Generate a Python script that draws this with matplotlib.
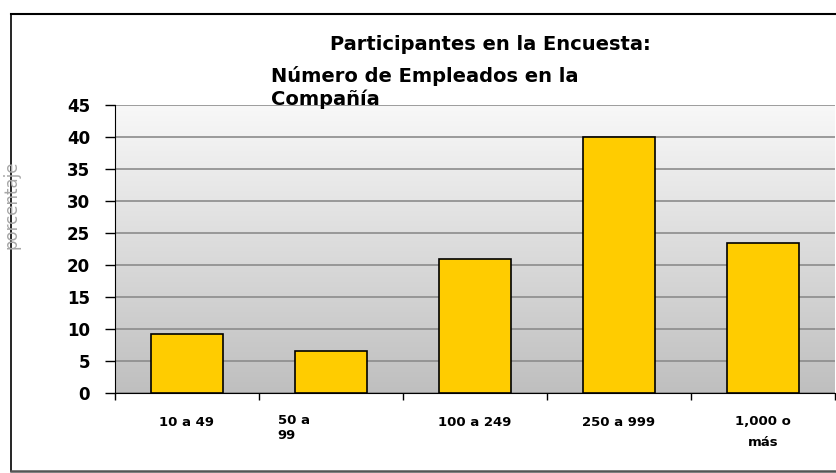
import matplotlib
matplotlib.use("Agg")
import matplotlib.pyplot as plt
import numpy as np
from matplotlib.lines import Line2D
from matplotlib.transforms import blended_transform_factory

categories = ["10 a 49", "50 a\n99", "100 a 249", "250 a 999", "1,000 o\nmás"]
values = [9.2, 6.5, 20.9, 40.0, 23.5]
yticks = [0, 5, 10, 15, 20, 25, 30, 35, 40, 45]

plt.rcParams["font.family"] = ["DejaVu Sans"]

W, H = 837, 473
fig = plt.figure(figsize=(W / 100, H / 100), dpi=100)
ax = fig.add_axes([115 / W, 1 - 393 / H, 720 / W, 288 / H])

# grey vertical gradient behind the bars
grad = np.linspace(0, 1, 256).reshape(-1, 1)
cmap = matplotlib.colors.LinearSegmentedColormap.from_list("bg", ["#bfbfbf", "#f8f8f8"])
ax.imshow(grad, extent=(0, 1, 0, 1), transform=ax.transAxes, aspect="auto",
          cmap=cmap, origin="lower", zorder=0)

x = np.arange(len(categories))
ax.bar(x, values, width=0.5, color="#ffcc00", edgecolor="black", lw=1.2, zorder=3)

ax.set_xlim(-0.5, len(categories) - 0.5)
ax.set_ylim(0, 45)
ax.set_yticks(yticks)
ax.set_yticklabels([str(t) for t in yticks], fontsize=12, fontweight="bold")
ax.yaxis.grid(True, color="#8c8c8c", lw=1.2, zorder=1)
ax.set_axisbelow(True)
ax.tick_params(axis="y", direction="out", length=7, width=1, pad=11)

ax.set_xticks(x)
ax.set_xticklabels([])
ax.tick_params(axis="x", which="major", length=0)
ax.set_xticks(np.arange(-0.5, len(categories)), minor=True)
ax.tick_params(axis="x", which="minor", direction="out", length=5, width=1)

for side in ["top", "right"]:
    ax.spines[side].set_visible(False)

# category labels, placed the way the original wraps them
tr = blended_transform_factory(ax.transData, ax.transAxes)
label_pos = {
    0: (0, (393 - 423) / 288, "center", 1.25),
    1: (0.63, (393 - 428) / 288, "left", 1.25),
    2: (2, (393 - 423) / 288, "center", 1.25),
    3: (3, (393 - 423) / 288, "center", 1.25),
    4: (4, (393 - 432) / 288, "center", 1.75),
}
for i, lab in enumerate(categories):
    xx, yy, ha, ls = label_pos[i]
    ax.text(xx, yy, lab, transform=tr, ha=ha, va="center", fontsize=9.5,
            fontweight="bold", linespacing=ls)

fig.text(490 / W, 1 - 44 / H, "Participantes en la Encuesta:", ha="center",
         va="center", fontsize=14, fontweight="bold")
fig.text(271 / W, 1 - 87.5 / H, "Número de Empleados en la\nCompañía", ha="left",
         va="center", fontsize=14, fontweight="bold", linespacing=1.25)

fig.text(12 / W, 1 - 205 / H, "porcentaje", rotation=90, ha="center",
         va="center", fontsize=12, color="#a6a6a6")

# outer chart frame
fig.lines.append(Line2D([11 / W, 1], [1 - 14 / H, 1 - 14 / H], transform=fig.transFigure,
                        color="black", lw=1.5))
fig.lines.append(Line2D([11 / W, 11 / W], [1 - 14 / H, 1 - 471 / H],
                        transform=fig.transFigure, color="black", lw=1.2))
fig.lines.append(Line2D([11 / W, 1], [1 - 471 / H, 1 - 471 / H], transform=fig.transFigure,
                        color="#555555", lw=1.8))

fig.savefig("out.png", dpi=100)
